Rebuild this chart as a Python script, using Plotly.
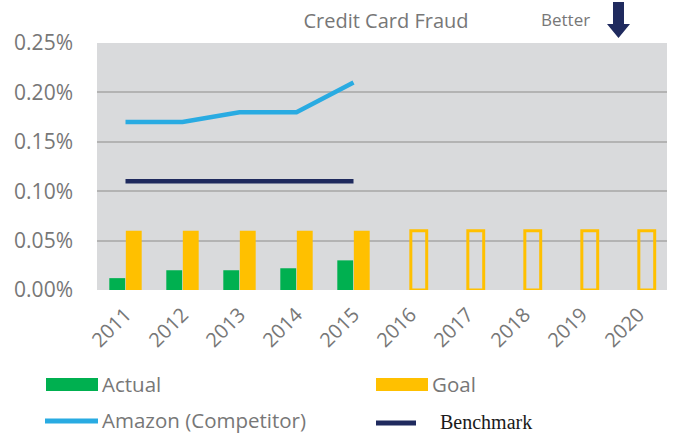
import plotly.graph_objects as go

# ---- data ----
years = ["2011", "2012", "2013", "2014", "2015", "2016", "2017", "2018", "2019", "2020"]
actual = [0.012, 0.020, 0.020, 0.022, 0.030, None, None, None, None, None]
goal = [0.06, 0.06, 0.06, 0.06, 0.06, 0.06, 0.06, 0.06, 0.06, 0.06]
goal_is_future = [False, False, False, False, False, True, True, True, True, True]
amazon_years = ["2011", "2012", "2013", "2014", "2015"]
amazon = [0.17, 0.17, 0.18, 0.18, 0.21]
benchmark_years = ["2011", "2012", "2013", "2014", "2015"]
benchmark = [0.11, 0.11, 0.11, 0.11, 0.11]
y_ticks = [0.0, 0.05, 0.10, 0.15, 0.20, 0.25]
y_tick_labels = ["0.00%", "0.05%", "0.10%", "0.15%", "0.20%", "0.25%"]

W, H = 673, 433
ML, MR, MT, MB = 97, 6, 43, 143
PW, PH = W - ML - MR, H - MT - MB

GREEN = "#00B050"
YELLOW = "#FFC000"
BLUE = "#29ABE2"
NAVY = "#1F2A5E"
GRAY_TXT = "#777777"
FONT = "Open Sans"


def px(x):
    return (x - ML) / PW


def py(y):
    return (H - MB - y) / PH


fig = go.Figure()
fig.add_trace(go.Bar(x=years, y=actual, name="Actual", marker=dict(color=GREEN, line=dict(width=0))))
fig.add_trace(go.Bar(
    x=years, y=goal, name="Goal",
    marker=dict(
        color=["rgba(0,0,0,0)" if f else YELLOW for f in goal_is_future],
        line=dict(color=YELLOW, width=[3 if f else 0 for f in goal_is_future]),
    ),
))
fig.add_trace(go.Scatter(x=amazon_years, y=amazon, mode="lines", name="Amazon (Competitor)",
                         line=dict(color=BLUE, width=4.5)))
fig.add_trace(go.Scatter(x=benchmark_years, y=benchmark, mode="lines", name="Benchmark",
                         line=dict(color=NAVY, width=4.5)))

shapes = []
# hide the gridline at zero (plot background colour)
shapes.append(dict(type="line", xref="paper", yref="y", x0=0, x1=1, y0=0, y1=0,
                   line=dict(color="#D9DADC", width=2), layer="between"))
# custom legend swatches
shapes.append(dict(type="rect", xref="paper", yref="paper", x0=px(46), x1=px(98), y0=py(391), y1=py(378),
                   fillcolor=GREEN, line=dict(width=0)))
shapes.append(dict(type="rect", xref="paper", yref="paper", x0=px(376), x1=px(428), y0=py(391), y1=py(378),
                   fillcolor=YELLOW, line=dict(width=0)))
shapes.append(dict(type="line", xref="paper", yref="paper", x0=px(45), x1=px(98), y0=py(421), y1=py(421),
                   line=dict(color=BLUE, width=5)))
shapes.append(dict(type="line", xref="paper", yref="paper", x0=px(376), x1=px(416), y0=py(423), y1=py(423),
                   line=dict(color=NAVY, width=5)))
# "Better" down arrow
pts = [(613, 2), (624, 2), (624, 24), (630, 24), (618.5, 38), (607, 24), (613, 24)]
path = "M " + " L ".join(f"{px(a):.5f},{py(b):.5f}" for a, b in pts) + " Z"
shapes.append(dict(type="path", xref="paper", yref="paper", path=path, fillcolor=NAVY, line=dict(width=0)))

leg_font = dict(family=FONT, size=20.5, color=GRAY_TXT)
annotations = [
    dict(text="Better", xref="paper", yref="paper", x=px(539), y=py(20), xanchor="left", yanchor="middle",
         showarrow=False, font=dict(family=FONT, size=17, color=GRAY_TXT)),
    dict(text="Actual", xref="paper", yref="paper", x=px(100), y=py(384), xanchor="left", yanchor="middle",
         showarrow=False, font=leg_font),
    dict(text="Goal", xref="paper", yref="paper", x=px(430), y=py(384), xanchor="left", yanchor="middle",
         showarrow=False, font=leg_font),
    dict(text="Amazon (Competitor)", xref="paper", yref="paper", x=px(100), y=py(419.5), xanchor="left",
         yanchor="middle", showarrow=False, font=leg_font),
    dict(text="Benchmark", xref="paper", yref="paper", x=px(438), y=py(422), xanchor="left", yanchor="middle",
         showarrow=False, font=dict(family="Liberation Serif", size=20, color="#1A1A1A")),
]

fig.update_layout(
    width=W, height=H,
    margin=dict(l=ML, r=MR, t=MT, b=MB, pad=0),
    paper_bgcolor="white", plot_bgcolor="#D9DADC",
    showlegend=False,
    barmode="group", bargap=0.42, bargroupgap=0.04,
    title=dict(text="Credit Card Fraud", x=386 / W, xref="container", xanchor="center",
               y=1 - 21 / H, yref="container", yanchor="middle",
               font=dict(family=FONT, size=20, color=GRAY_TXT)),
    font=dict(family=FONT, color=GRAY_TXT),
    shapes=shapes, annotations=annotations,
)
fig.update_xaxes(type="category", categoryorder="array", categoryarray=years,
                 tickangle=-45, tickfont=dict(family=FONT, size=20, color=GRAY_TXT),
                 showgrid=False, zeroline=False, showline=False, ticks="", ticklabelstandoff=8)
fig.update_yaxes(range=[0, 0.25], tickmode="array", tickvals=y_ticks, ticktext=y_tick_labels,
                 tickfont=dict(family=FONT, size=21, color=GRAY_TXT),
                 showgrid=True, gridcolor="#B3B3B3", gridwidth=2, zeroline=False, showline=False,
                 ticks="", ticklabelstandoff=23)

fig.write_html("out.html", config={"displayModeBar": False},
               post_script="document.body.style.margin='0';")
